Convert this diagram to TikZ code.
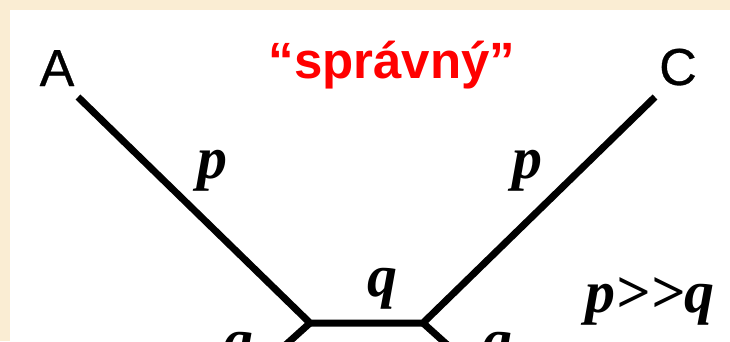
\documentclass[tikz,border=0pt]{standalone}
\usepackage{fontspec}
\setmainfont{Liberation Serif}
\newfontfamily\arialfont[FakeBold=0.6]{Liberation Sans}
\newfontfamily\arialbold{Liberation Sans Bold}
\usepackage{tikz}
\definecolor{parchment}{HTML}{FAEDD3}
\definecolor{sprred}{HTML}{FF0000}

\begin{document}
\begin{tikzpicture}[x=1pt, y=-1pt,
    branch/.style={line width=7pt, line join=miter},
    taxon/.style={inner sep=0pt, anchor=base, font=\arialfont\fontsize{52}{60}\selectfont},
    weight/.style={inner sep=0pt, anchor=base, font=\bfseries\itshape\fontsize{60}{68}\selectfont}]
  \useasboundingbox (0,0) rectangle (730,341);
  \clip (0,0) rectangle (730,341);
  \fill[parchment] (0,0) rectangle (730,341);
  \fill[white] (10,10) rectangle (730,341);

  \node[taxon] (A) at (57,86) {A};
  \node[taxon] (C) at (678,85) {C};
  \node[taxon, text=sprred, font=\arialbold\fontsize{51}{60}\selectfont] (title) at (392,78) {“správný”};

  \coordinate (tipA) at (78,97);
  \coordinate (tipC) at (655,97);
  \coordinate (jl) at (310,323);
  \coordinate (jr) at (423,323);
  \coordinate (botl) at (280,350);
  \coordinate (botr) at (453,350);

  \draw[branch] (tipA) -- (jl) -- (jr) -- (tipC);
  \draw[branch] (jl) -- (botl);
  \draw[branch] (jr) -- (botr);

  \node[weight] (pA) at (212,178) {p};
  \node[weight] (pC) at (527,178) {p};
  \node[weight] (qmid) at (382,296) {q};
  \node[weight] (ql) at (238,360) {q};
  \node[weight] (qr) at (497,360) {q};
  \node[weight] (rel) at (650,312) {p>\kern0pt>q};
\end{tikzpicture}
\end{document}
